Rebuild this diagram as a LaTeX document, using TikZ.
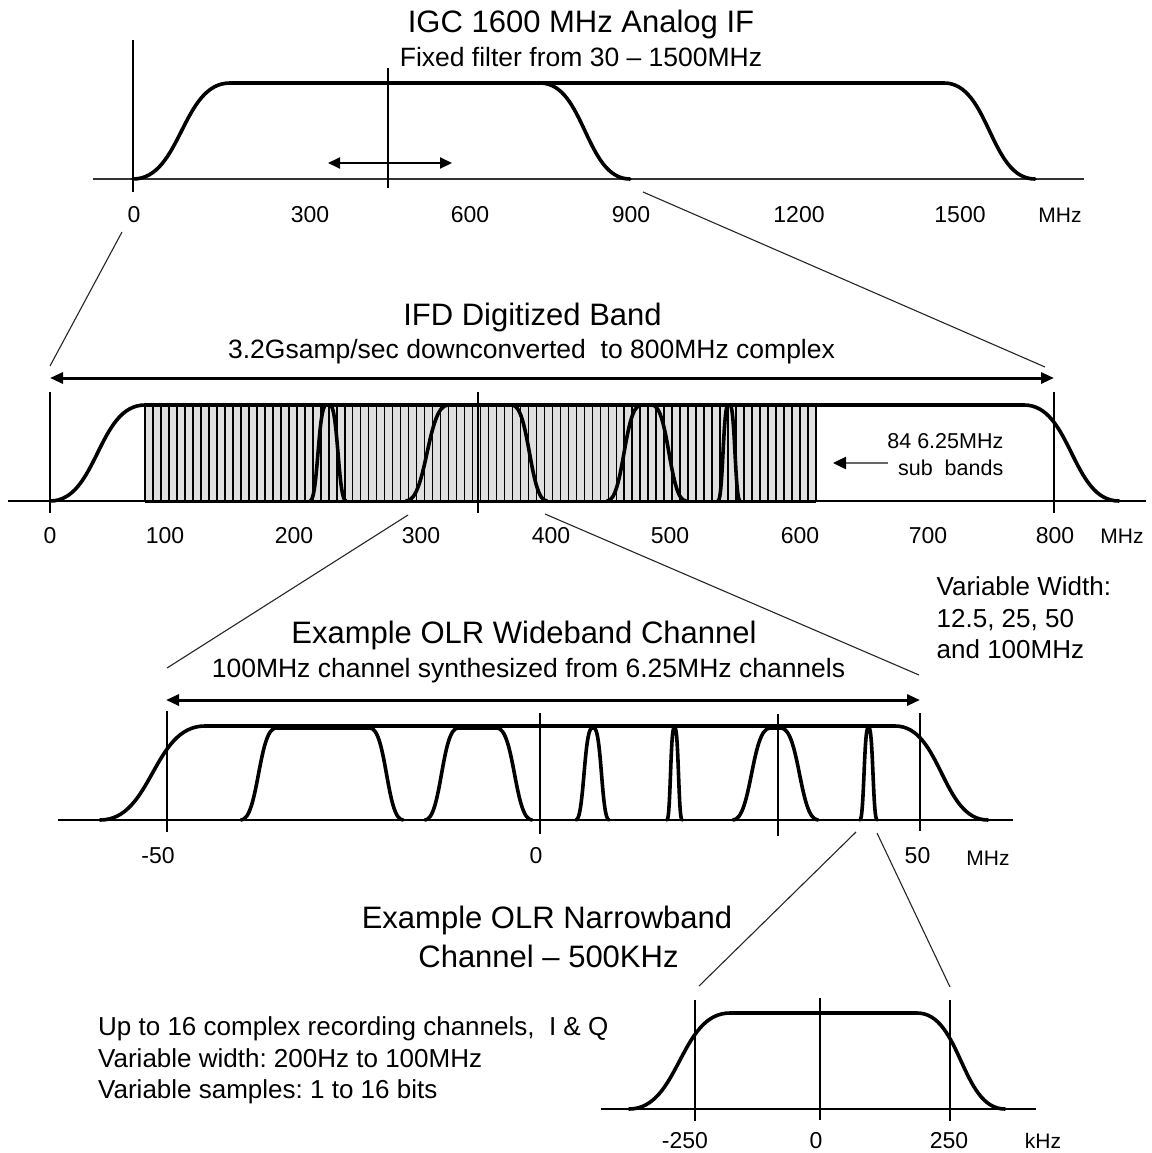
\documentclass[tikz,border=0pt]{standalone}
\usepackage{fontspec}
\setmainfont{Liberation Sans}
\usetikzlibrary{arrows.meta}
\frenchspacing
\newcommand\fsz[1]{\fontsize{#1}{#1}\selectfont}
% #1 left bottom x, #2 left top x, #3 right top x, #4 right bottom x, #5 bottom y, #6 top y
\newcommand\bandpassshape[6]{%
  \draw[curve] (#1,#5) .. controls ({(#1+#2)/2},#5) and ({(#1+#2)/2},#6) .. (#2,#6)
    -- (#3,#6) .. controls ({(#3+#4)/2},#6) and ({(#3+#4)/2},#5) .. (#4,#5);}
\tikzset{
  curve/.style={line width=3.6pt, line join=round, line cap=round, black},
  axisline/.style={line width=1.5pt, black!80},
  vline/.style={line width=1.2pt, black},
  zoomline/.style={line width=1.1pt, black!85},
  dblarrow/.style={line width=3pt, {Triangle[length=13pt,width=11pt]}-{Triangle[length=13pt,width=11pt]}},
  ttl/.style={font=\fsz{31}, anchor=base, inner sep=0pt},
  subttl/.style={font=\fsz{26.5}, anchor=base, inner sep=0pt},
  lab/.style={font=\fsz{23}, anchor=base, inner sep=0pt},
  unitlab/.style={font=\fsz{21}, anchor=base, inner sep=0pt},
  note/.style={font=\fsz{26}, anchor=base west, inner sep=0pt},
}
\begin{document}
\begin{tikzpicture}[x=1pt,y=-1pt]
\useasboundingbox[fill=white] (0,0) rectangle (1151,1153);

% ================= Panel 1 =================
\node[ttl] (t1) at (581,33) {IGC 1600 MHz Analog IF};
\node[subttl] (s1) at (581,67) {Fixed filter from 30 \textendash{} 1500MHz};
\draw[axisline] (93,179) -- (1084,179);
\draw[vline] (133,40) -- (133,192);
\draw[vline] (388,68) -- (388,188);
\draw[line width=2pt, {Triangle[length=12pt,width=11pt]}-{Triangle[length=12pt,width=11pt]}] (328,163) -- (452,163);
\bandpassshape{133}{230}{540}{630}{179}{83}
\draw[curve] (540,83) -- (944,83) .. controls (989.5,83) and (989.5,179) .. (1035,179);
\node[lab] (a0) at (134,222) {0};
\node[lab] (a300) at (310,222) {300};
\node[lab] (a600) at (470,222) {600};
\node[lab] (a900) at (631,222) {900};
\node[lab] (a1200) at (799,222) {1200};
\node[lab] (a1500) at (960,222) {1500};
\node[unitlab] (amhz) at (1060,222) {MHz};

% zoom lines 1 -> 2
\coordinate (z1a) at (122,232);
\coordinate (z1b) at (50,366);
\coordinate (z1c) at (643,192);
\coordinate (z1d) at (1045,367);
\draw[zoomline] (z1a) -- (z1b);
\draw[zoomline] (z1c) -- (z1d);

% ================= Panel 2 =================
\node[ttl] (t2) at (532.5,325) {IFD Digitized Band};
\node[subttl] (s2) at (531.5,358) {3.2Gsamp/sec downconverted\ \ to 800MHz complex};
\draw[dblarrow] (50,378) -- (1054,378);
\fill[gray!25] (145,405) rectangle (816,501);
\foreach \i in {0,...,84} \draw[line width=1.6pt] ({145+\i*7.988},405) -- ({145+\i*7.988},501);
\draw[axisline, black] (8,501) -- (1146,501);
\draw[line width=3pt] (145,501) -- (816,501);
\draw[vline] (50,392) -- (50,513);
\draw[vline] (478,392) -- (478,513);
\draw[vline] (1054,392) -- (1054,513);
\bandpassshape{50}{145}{1024}{1119}{501}{405}
\bandpassshape{310}{326}{330}{346}{501}{405}
\bandpassshape{406}{448}{512}{547}{501}{405}
\bandpassshape{607}{641}{652}{686}{501}{405}
\bandpassshape{718}{728}{730}{740}{501}{405}
\node[lab] (b0) at (50,543) {0};
\node[lab] (b100) at (165,543) {100};
\node[lab] (b200) at (294,543) {200};
\node[lab] (b300) at (421,543) {300};
\node[lab] (b400) at (551,543) {400};
\node[lab] (b500) at (670,543) {500};
\node[lab] (b600) at (800,543) {600};
\node[lab] (b700) at (928,543) {700};
\node[lab] (b800) at (1055,543) {800};
\node[unitlab] (bmhz) at (1122,543) {MHz};
\node[font=\fsz{21.5}, anchor=base east, inner sep=0pt] (sb1) at (1003.5,448) {84 6.25MHz};
\node[font=\fsz{21.5}, anchor=base east, inner sep=0pt] (sb2) at (1003.5,475) {sub\ \ bands};
\coordinate (sbarr) at (888,463);
\coordinate (sbtip) at (833,463);
\draw[line width=2.5pt, black!60, -{Triangle[length=13pt,width=12pt,color=black]}] (sbarr) -- (sbtip);

\node[note] (vw1) at (936.5,595) {Variable Width:};
\node[note] (vw2) at (936.5,627) {12.5, 25, 50};
\node[note] (vw3) at (936.5,658) {and 100MHz};

% zoom lines 2 -> 3
\coordinate (z2a) at (408,515);
\coordinate (z2b) at (167,668);
\coordinate (z2c) at (545,514);
\coordinate (z2d) at (919,675);
\draw[zoomline] (z2a) -- (z2b);
\draw[zoomline] (z2c) -- (z2d);

% ================= Panel 3 =================
\node[ttl] (t3) at (524,643) {Example OLR Wideband Channel};
\node[subttl] (s3) at (528.5,677) {100MHz channel synthesized from 6.25MHz channels};
\draw[dblarrow] (166,700) -- (920,700);
\draw[axisline, black] (58,820) -- (1013,820);
\draw[vline] (167,711) -- (167,832);
\draw[vline] (540,713) -- (540,834);
\draw[vline] (778,714) -- (778,836);
\draw[vline] (920,713) -- (920,831);
\bandpassshape{100}{205}{895}{988}{820}{726}
\bandpassshape{241}{276}{370}{403}{820}{728}
\bandpassshape{425}{458}{497}{532}{820}{728}
\bandpassshape{576}{592}{594}{609}{820}{728}
\bandpassshape{667}{674}{675}{682}{820}{728}
\bandpassshape{733}{770}{781}{818}{820}{728}
\bandpassshape{860}{868}{869}{877}{820}{728}
\node[lab] (c1) at (158,863) {-50};
\node[lab] (c2) at (536,863) {0};
\node[lab] (c3) at (917.5,863) {50};
\node[unitlab] (cmhz) at (988,865) {MHz};

% zoom lines 3 -> 4
\coordinate (z3a) at (856,832);
\coordinate (z3b) at (699,986);
\coordinate (z3c) at (877,833);
\coordinate (z3d) at (950,987);
\draw[zoomline] (z3a) -- (z3b);
\draw[zoomline] (z3c) -- (z3d);

% ================= Panel 4 =================
\node[ttl] (t4a) at (547,928) {Example OLR Narrowband};
\node[ttl] (t4b) at (548.5,967) {Channel \textendash{} 500KHz};
\node[note] (n1) at (98,1035) {Up to 16 complex recording channels,\ \ I \& Q};
\node[note] (n2) at (98,1067) {Variable width: 200Hz to 100MHz};
\node[note] (n3) at (98,1098) {Variable samples: 1 to 16 bits};
\draw[axisline, black] (601,1109) -- (1036,1109);
\draw[vline] (695,1000) -- (695,1121);
\draw[vline] (820,998) -- (820,1120);
\draw[vline] (950,1000) -- (950,1121);
\bandpassshape{629}{730}{917}{1005}{1109}{1013}
\node[lab] (d1) at (685,1148) {-250};
\node[lab] (d2) at (816,1148) {0};
\node[lab] (d3) at (949,1148) {250};
\node[unitlab] (dkhz) at (1043,1148) {kHz};
\end{tikzpicture}
\end{document}
